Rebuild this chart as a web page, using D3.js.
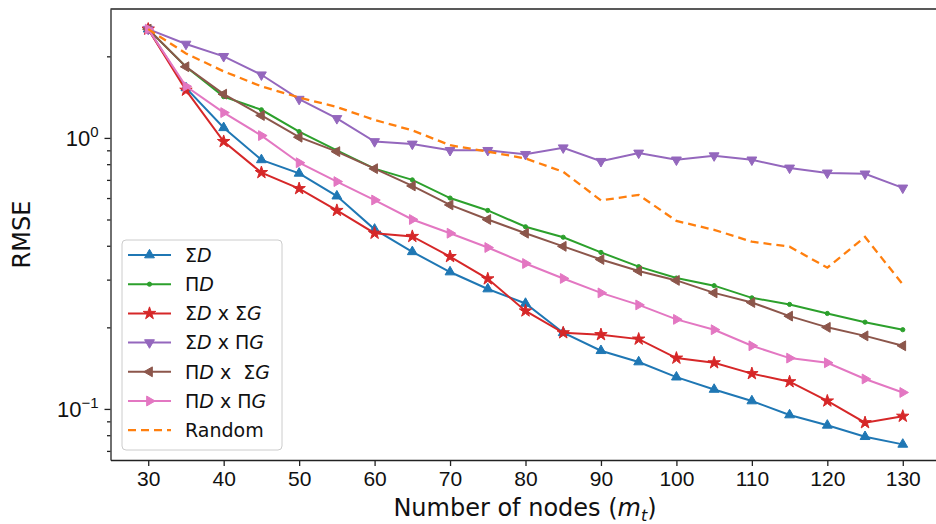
<!DOCTYPE html>
<html>
<head>
<meta charset="utf-8">
<script src="https://cdn.jsdelivr.net/npm/d3@7"></script>
<style>
  body { margin: 0; background: #fff; }
  svg { display: block; font-family: "DejaVu Sans", sans-serif; }
</style>
</head>
<body>
<svg width="936" height="524"></svg>
<script>
// RMSE vs number of nodes, log y
const nodes = [30, 35, 40, 45, 50, 55, 60, 65, 70, 75, 80, 85, 90, 95, 100, 105, 110, 115, 120, 125, 130];

const sumD      = [2.52, 1.53, 1.09, 0.83, 0.74, 0.61, 0.46, 0.38, 0.32, 0.277, 0.245, 0.191, 0.164, 0.149, 0.131, 0.118, 0.107, 0.095, 0.087, 0.079, 0.074];
const prodD     = [2.52, 1.83, 1.42, 1.27, 1.055, 0.90, 0.77, 0.70, 0.60, 0.54, 0.47, 0.43, 0.378, 0.335, 0.304, 0.285, 0.257, 0.243, 0.225, 0.209, 0.196];
const sumDsumG  = [2.52, 1.50, 0.97, 0.745, 0.65, 0.54, 0.445, 0.433, 0.365, 0.302, 0.230, 0.191, 0.188, 0.181, 0.154, 0.148, 0.135, 0.126, 0.107, 0.089, 0.094];
const sumDprodG = [2.52, 2.22, 2.00, 1.71, 1.39, 1.18, 0.97, 0.95, 0.90, 0.90, 0.87, 0.92, 0.82, 0.88, 0.83, 0.86, 0.83, 0.775, 0.743, 0.737, 0.654];
const prodDsumG = [2.52, 1.83, 1.45, 1.21, 1.006, 0.89, 0.77, 0.665, 0.566, 0.50, 0.445, 0.398, 0.356, 0.323, 0.298, 0.268, 0.247, 0.220, 0.200, 0.186, 0.171];
const prodDprodG= [2.52, 1.55, 1.24, 1.02, 0.81, 0.69, 0.59, 0.50, 0.445, 0.394, 0.344, 0.303, 0.268, 0.242, 0.214, 0.196, 0.171, 0.154, 0.148, 0.129, 0.115];
const random    = [2.52, 2.05, 1.76, 1.55, 1.41, 1.30, 1.165, 1.066, 0.94, 0.89, 0.84, 0.75, 0.588, 0.616, 0.494, 0.458, 0.414, 0.397, 0.332, 0.431, 0.288];

const xTicks = [30, 40, 50, 60, 70, 80, 90, 100, 110, 120, 130];
const yMajor = [0.1, 1];
const yMinor = [0.07, 0.08, 0.09, 0.2, 0.3, 0.4, 0.5, 0.6, 0.7, 0.8, 0.9, 2];

const series = [
  {name: ['Σ', 'D'],                      vals: sumD,       color: '#1f77b4', marker: 'up'},
  {name: ['Π', 'D'],                      vals: prodD,      color: '#2ca02c', marker: 'dot'},
  {name: ['Σ', 'D', ' x Σ', 'G'],         vals: sumDsumG,   color: '#d62728', marker: 'star'},
  {name: ['Σ', 'D', ' x Π', 'G'],         vals: sumDprodG,  color: '#9467bd', marker: 'down'},
  {name: ['Π', 'D', ' x \u00a0Σ', 'G'],   vals: prodDsumG,  color: '#8c564b', marker: 'left'},
  {name: ['Π', 'D', ' x Π', 'G'],         vals: prodDprodG, color: '#e377c2', marker: 'right'},
  {name: ['Random'],                      vals: random,     color: '#ff7f0e', marker: null, dash: '8,5'}
];

const svg = d3.select('svg');
const mLeft = 110.5, mRight = 940.5, mTop = 9, mBottom = 460;

const x = d3.scaleLinear().domain([25, 135]).range([mLeft, mRight]);
const y = d3.scaleLog().domain([0.0648, 2.99]).range([mBottom, mTop]);

const line = d3.line().x((d, i) => x(nodes[i])).y(d => y(d));

// marker shapes
function markerPath(m) {
  if (m === 'star') return d3.symbol(d3.symbolStar, 48)();
  if (m === 'dot') return d3.symbol(d3.symbolCircle, 14)();
  return d3.symbol(d3.symbolTriangle, 42)();
}
function markerRot(m) {
  return {up: 0, down: 180, left: -90, right: 90}[m] || 0;
}

const plot = svg.append('g');

series.forEach(s => {
  plot.append('path')
    .datum(s.vals)
    .attr('fill', 'none')
    .attr('stroke', s.color)
    .attr('stroke-width', s.dash ? 2.3 : 2)
    .attr('stroke-dasharray', s.dash || null)
    .attr('d', line);
  if (s.marker) {
    plot.selectAll(null)
      .data(s.vals)
      .enter().append('path')
        .attr('d', markerPath(s.marker))
        .attr('transform', (d, i) => `translate(${x(nodes[i])},${y(d)}) rotate(${markerRot(s.marker)})`)
        .attr('fill', s.color)
        .attr('stroke', s.color)
        .attr('stroke-width', 1);
  }
});

// axes
const xAxis = svg.append('g')
  .attr('transform', `translate(0,${mBottom})`)
  .call(d3.axisBottom(x).tickValues(xTicks).tickSize(6).tickSizeOuter(0).tickPadding(5));
xAxis.selectAll('text').attr('font-size', 21).attr('fill', '#111');

const yAxis = svg.append('g')
  .attr('transform', `translate(${mLeft},0)`)
  .call(d3.axisLeft(y).tickValues(yMajor).tickSize(6).tickSizeOuter(0).tickFormat(''));
yAxis.selectAll('.tick').append('text')
  .attr('x', -12).attr('dy', '0.36em')
  .attr('text-anchor', 'end')
  .attr('fill', '#111')
  .attr('font-size', 22)
  .each(function(d) {
    const t = d3.select(this);
    t.append('tspan').text('10');
    t.append('tspan').attr('dy', -9).attr('font-size', 15).text(d === 1 ? '0' : '\u22121');
  });

svg.append('g')
  .attr('transform', `translate(${mLeft},0)`)
  .call(d3.axisLeft(y).tickValues(yMinor).tickSize(3.5).tickSizeOuter(0).tickFormat(''))
  .select('.domain').remove();

svg.selectAll('.domain, .tick line').attr('stroke', '#222').attr('stroke-width', 1.3);

// top spine
svg.append('line')
  .attr('x1', mLeft).attr('x2', mRight)
  .attr('y1', mTop).attr('y2', mTop)
  .attr('stroke', '#222').attr('stroke-width', 1.3);

// axis labels
const xl = svg.append('text')
  .attr('x', 525).attr('y', 516)
  .attr('text-anchor', 'middle')
  .attr('font-size', 24)
  .attr('fill', '#111');
xl.append('tspan').text('Number of nodes (');
xl.append('tspan').attr('font-style', 'italic').text('m');
xl.append('tspan').attr('font-style', 'italic').attr('font-size', 16).attr('dy', 5).text('t');
xl.append('tspan').attr('dy', -5).text(')');

svg.append('text')
  .attr('transform', `translate(30,${(mTop + mBottom) / 2}) rotate(-90)`)
  .attr('text-anchor', 'middle')
  .attr('font-size', 24)
  .attr('fill', '#111')
  .text('RMSE');

// legend
const lg = svg.append('g').attr('transform', 'translate(122,240)');
lg.append('rect')
  .attr('width', 160).attr('height', 210)
  .attr('rx', 4)
  .attr('fill', 'rgba(255,255,255,0.85)')
  .attr('stroke', '#ccc');

series.forEach((s, i) => {
  const ry = 15 + i * 29.2;
  const row = lg.append('g').attr('transform', `translate(0,${ry})`);
  row.append('line')
    .attr('x1', 6).attr('x2', 49)
    .attr('stroke', s.color).attr('stroke-width', s.dash ? 2.3 : 2)
    .attr('stroke-dasharray', s.dash || null);
  if (s.marker) {
    row.append('path')
      .attr('d', markerPath(s.marker))
      .attr('transform', `translate(27.5,0) rotate(${markerRot(s.marker)})`)
      .attr('fill', s.color).attr('stroke', s.color);
  }
  const t = row.append('text')
    .attr('x', 63).attr('dy', '0.36em')
    .attr('font-size', 19)
    .attr('fill', '#111')
    .attr('xml:space', 'preserve');
  s.name.forEach(part => {
    const ts = t.append('tspan').text(part);
    if (part === 'D' || part === 'G') ts.attr('font-style', 'italic');
  });
});
</script>
</body>
</html>
